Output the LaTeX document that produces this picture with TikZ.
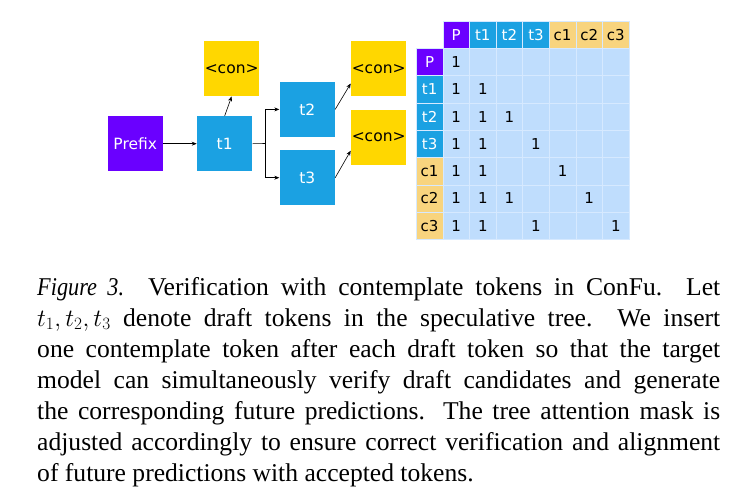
\documentclass[tikz,border=0pt]{standalone}
\usepackage{fontspec}
\setmainfont{Liberation Serif}
\newfontfamily\diagfont{DejaVu Sans}
\newfontfamily\figit[FakeStretch=0.87]{Liberation Serif Italic}
\usetikzlibrary{arrows.meta}
\definecolor{prefpurple}{HTML}{6A00FF}
\definecolor{tokblue}{HTML}{1BA1E2}
\definecolor{conyellow}{HTML}{FFD700}
\definecolor{cellblue}{HTML}{BFDDFD}
\definecolor{cellline}{HTML}{D6E9FF}
\definecolor{chead}{HTML}{F8D47E}
\tikzset{
  box/.style={minimum width=55.5pt, minimum height=55pt, inner sep=0pt, font=\diagfont\fontsize{15.5}{17}\selectfont, anchor=north west},
  pref/.style={box, fill=prefpurple, text=white},
  tok/.style={box, fill=tokblue, text=white},
  con/.style={box, fill=conyellow, text=black},
  arr/.style={-{Stealth[length=5pt,width=4pt]}, line width=0.6pt, black},
  cell/.style={minimum width=26.6pt, minimum height=27.3pt, inner sep=0pt, anchor=north west, draw=cellline, line width=0.6pt, font=\diagfont\fontsize{15}{17}\selectfont},
  mcell/.style={cell, fill=cellblue, text=black},
  hp/.style={cell, fill=prefpurple, text=white},
  ht/.style={cell, fill=tokblue, text=white},
  hc/.style={cell, fill=chead, text=black},
  captext/.style={anchor=north west, inner sep=0pt, text width=683pt, align=justify, font=\fontsize{25.6}{31}\selectfont}
}
\begin{document}
\begin{tikzpicture}[x=1pt,y=-1pt]
\useasboundingbox (0,0) rectangle (735,493);
% tree
\node[pref] (pre) at (107.3,116) {Prefix};
\node[tok] (t1) at (196.7,116) {t1};
\node[con] (c1) at (203.7,41) {<con>};
\node[tok] (t2) at (279.3,81.7) {t2};
\node[tok] (t3) at (279.3,150) {t3};
\node[con] (c2) at (350.7,41) {<con>};
\node[con] (c3) at (350.7,109.3) {<con>};
\coordinate (j) at (265.7,143.5);
\draw[arr] (pre.east) -- (t1.west);
\draw[arr] (t1.north) -- (c1.south);
\draw[line width=0.6pt] (t1.east) -- (j);
\draw[arr] (j) |- (t2.west);
\draw[arr] (j) |- (t3.west);
\draw[arr] (t2.east) -- ([yshift=-14.8pt]c2.west);
\draw[arr] (t3.east) -- ([yshift=-13.7pt]c3.west);
% matrix
\def\cw{26.6}\def\rh{27.3}\def\mx{416}\def\my{20.7}
\foreach \lab/\sty [count=\i] in {P/hp,t1/ht,t2/ht,t3/ht,c1/hc,c2/hc,c3/hc}{
  \node[\sty] (h\i) at ({\mx+\i*\cw},\my) {\lab};
  \node[\sty] (r\i) at (\mx,{\my+\i*\rh}) {\lab};
}
\foreach \r/\vals in {1/{1,0,0,0,0,0,0},2/{1,1,0,0,0,0,0},3/{1,1,1,0,0,0,0},4/{1,1,0,1,0,0,0},5/{1,1,0,0,1,0,0},6/{1,1,1,0,0,1,0},7/{1,1,0,1,0,0,1}}{
  \foreach \v [count=\c] in \vals {
    \node[mcell] (m\r\c) at ({\mx+\c*\cw},{\my+\r*\rh}) {\ifnum\v=1 1\fi};
  }
}
% caption
\node[captext] (caption) at (37,277) {{\figit Figure 3.}\ \ Verification with contemplate tokens in ConFu.\ \ Let\linebreak
$t_1, t_2, t_3$ denote draft tokens in the speculative tree.\ \ We insert\linebreak
one contemplate token after each draft token so that the target\linebreak
model can simultaneously verify draft candidates and generate\linebreak
the corresponding future predictions. The tree attention mask is\linebreak
adjusted accordingly to ensure correct verification and alignment\linebreak
of future predictions with accepted tokens.};
\end{tikzpicture}
\end{document}
